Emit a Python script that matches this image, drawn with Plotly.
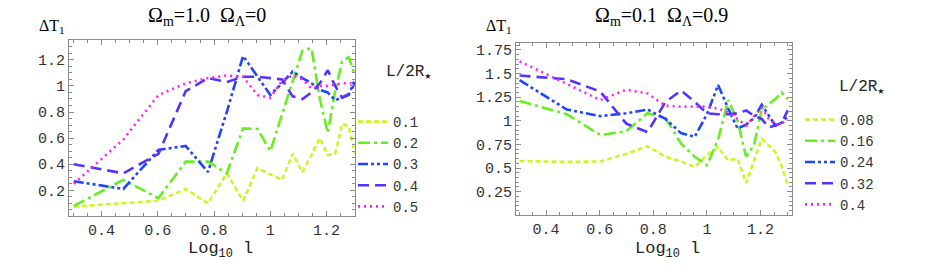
import numpy as np
import plotly.graph_objects as go

# ---- data ----
l_values = list(range(2, 21))

left_labels = ["0.1", "0.2", "0.3", "0.4", "0.5"]
left_y01 = [0.075, 0.10, 0.12, 0.21, 0.10, 0.33, 0.12, 0.37, 0.32, 0.28, 0.48, 0.34, 0.47, 0.60, 0.47, 0.48, 0.71, 0.69, 0.48]
left_y02 = [0.08, 0.28, 0.14, 0.42, 0.42, 0.33, 0.675, 0.67, 0.50, 0.78, 1.05, 1.27, 1.29, 0.90, 0.64, 0.96, 1.19, 1.22, 1.08]
left_y03 = [0.27, 0.21, 0.51, 0.54, 0.34, 0.80, 1.23, 1.07, 0.93, 1.02, 1.11, 1.06, 1.02, 0.97, 0.95, 0.89, 0.91, 0.93, 1.05]
left_y04 = [0.40, 0.33, 0.48, 0.96, 1.06, 1.03, 1.07, 1.07, 1.06, 1.05, 0.92, 0.90, 0.95, 1.02, 1.12, 1.00, 0.91, 0.94, 1.02]
left_y05 = [0.25, 0.59, 0.93, 1.02, 1.06, 1.08, 1.07, 0.93, 0.91, 1.04, 1.08, 1.05, 0.98, 1.00, 1.00, 1.01, 1.02, 1.02, 1.02]

right_labels = ["0.08", "0.16", "0.24", "0.32", "0.4"]
right_y08 = [0.575, 0.565, 0.57, 0.65, 0.73, 0.62, 0.57, 0.51, 0.64, 0.72, 0.58, 0.60, 0.34, 0.58, 0.81, 0.74, 0.67, 0.52, 0.32]
right_y16 = [1.21, 1.07, 0.85, 0.89, 1.08, 1.03, 0.76, 0.62, 0.53, 0.80, 1.22, 1.00, 0.62, 0.75, 1.12, 1.18, 1.23, 1.30, 1.23]
right_y24 = [1.43, 1.12, 1.05, 1.08, 1.12, 1.02, 0.87, 0.83, 1.07, 1.38, 1.13, 0.92, 0.96, 1.03, 1.17, 1.06, 0.95, 0.98, 1.05]
right_y32 = [1.48, 1.44, 1.31, 0.97, 0.88, 1.20, 1.32, 1.20, 1.08, 1.07, 1.07, 1.08, 1.11, 1.05, 1.02, 0.93, 0.95, 0.98, 1.11]
right_y40 = [1.63, 1.39, 1.22, 1.33, 1.29, 1.16, 1.15, 1.15, 1.15, 1.13, 1.09, 1.02, 0.95, 1.05, 1.14, 1.02, 0.96, 0.97, 1.02]

colors = ["#ccf52a", "#66ee22", "#2244ff", "#5533ff", "#ff22ee"]
dashes = ["5px,3px", "12px,4px,3px,4px", "10px,3px,3px,3px,3px,3px", "11px,6px", "2px,4px"]

W, H = 926, 272
x_log = np.log10(np.array(l_values, dtype=float))

fig = go.Figure()

left_series = [left_y01, left_y02, left_y03, left_y04, left_y05]
right_series = [right_y08, right_y16, right_y24, right_y32, right_y40]

for i, (lab, ys) in enumerate(zip(left_labels, left_series)):
    fig.add_trace(go.Scatter(x=x_log, y=ys, mode="lines", name=lab,
                             line=dict(color=colors[i], width=2.6, dash=dashes[i]),
                             xaxis="x", yaxis="y", legend="legend"))
for i, (lab, ys) in enumerate(zip(right_labels, right_series)):
    fig.add_trace(go.Scatter(x=x_log, y=ys, mode="lines", name=lab,
                             line=dict(color=colors[i], width=2.6, dash=dashes[i]),
                             xaxis="x2", yaxis="y2", legend="legend2"))

mono = "Liberation Mono, Courier New, monospace"
serif = "Liberation Serif, Times New Roman, serif"
tick_font = dict(family=mono, size=15, color="#333333")
frame = dict(showline=True, linecolor="#8c8c8c", linewidth=1, mirror="allticks",
             ticks="inside", ticklen=5, tickcolor="#8c8c8c", showgrid=False,
             zeroline=False, tickfont=tick_font)
minor = dict(ticks="inside", ticklen=3, tickcolor="#8c8c8c", tick0=0)


def px_x(v):
    return v / W


def px_y(v):
    return 1 - v / H


fig.update_layout(
    width=W, height=H,
    margin=dict(l=0, r=0, t=0, b=0),
    paper_bgcolor="white", plot_bgcolor="white",
    xaxis=dict(domain=[px_x(69), px_x(355)], range=[0.284, 1.301], anchor="y",
               tickmode="linear", tick0=0, dtick=0.2, minor=dict(dtick=0.05, **minor), **frame),
    yaxis=dict(domain=[px_y(216), px_y(40)], range=[0.003, 1.352], anchor="x",
               tickmode="linear", tick0=0, dtick=0.2, minor=dict(dtick=0.05, **minor), **frame),
    xaxis2=dict(domain=[px_x(516), px_x(791.7)], range=[0.2877, 1.316], anchor="y2",
                tickmode="linear", tick0=0, dtick=0.2, minor=dict(dtick=0.05, **minor), **frame),
    yaxis2=dict(domain=[px_y(215), px_y(42.7)], range=[0.003, 1.827], anchor="x2",
                tickmode="linear", tick0=0, dtick=0.25, minor=dict(dtick=0.05, **minor), **frame),
    legend=dict(x=px_x(353), y=px_y(106), xanchor="left", yanchor="top",
                font=dict(family=mono, size=14, color="#333333"),
                bgcolor="rgba(0,0,0,0)", itemwidth=30, tracegroupgap=0),
    legend2=dict(x=px_x(800), y=px_y(104), xanchor="left", yanchor="top",
                 font=dict(family=mono, size=14, color="#333333"),
                 bgcolor="rgba(0,0,0,0)", itemwidth=30, tracegroupgap=0),
    showlegend=True,
)

ann = []
ann.append(dict(text="Ω<sub>m</sub>=1.0\u00a0\u00a0Ω<sub>Λ</sub>=0", x=px_x(207), y=px_y(16),
                font=dict(family=serif, size=20, color="black")))
ann.append(dict(text="Ω<sub>m</sub>=0.1\u00a0\u00a0Ω<sub>Λ</sub>=0.9", x=px_x(661), y=px_y(16),
                font=dict(family=serif, size=20, color="black")))
ann.append(dict(text="ΔT<sub>1</sub>", x=px_x(52), y=px_y(27), font=dict(family=serif, size=16, color="black")))
ann.append(dict(text="ΔT<sub>1</sub>", x=px_x(499), y=px_y(27), font=dict(family=serif, size=16, color="black")))
ann.append(dict(text="Log<sub>10</sub> l", x=px_x(220), y=px_y(250), font=dict(family=mono, size=17, color="#222222")))
ann.append(dict(text="Log<sub>10</sub> l", x=px_x(667), y=px_y(250), font=dict(family=mono, size=17, color="#222222")))
ann.append(dict(text="L/2R<sub>★</sub>", x=px_x(408), y=px_y(73), font=dict(family=mono, size=16, color="#222222")))
ann.append(dict(text="L/2R<sub>★</sub>", x=px_x(861), y=px_y(88), font=dict(family=mono, size=16, color="#222222")))

for a in ann:
    a.update(xref="paper", yref="paper", showarrow=False, xanchor="center", yanchor="middle")
fig.update_layout(annotations=ann)

fig.write_html("out.html", config={"displayModeBar": False},
               post_script="document.body.style.margin='0px';")
